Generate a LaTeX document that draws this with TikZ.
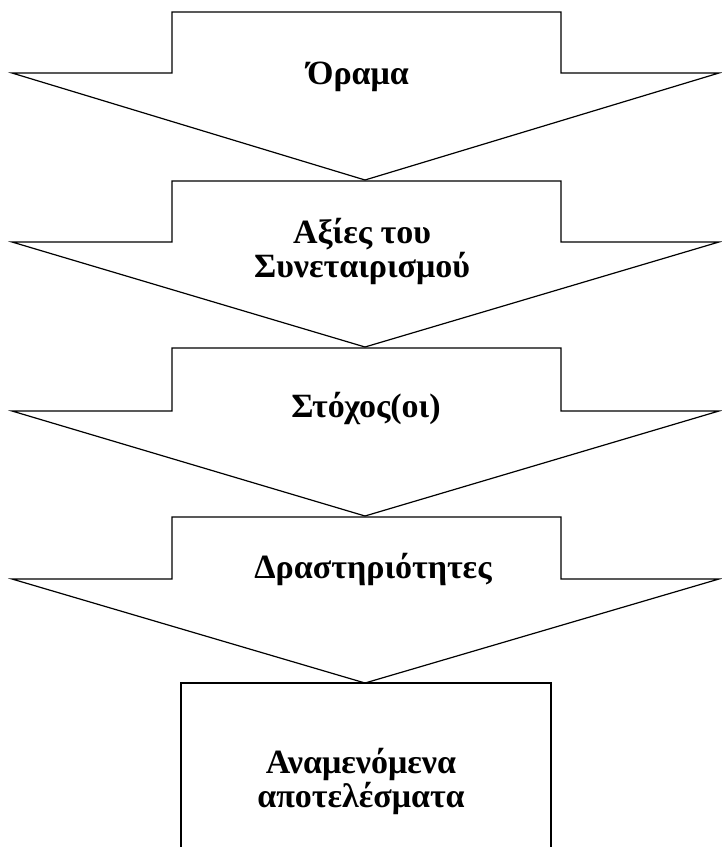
\documentclass[tikz,border=0pt]{standalone}
\usepackage{fontspec}
\setmainfont{Liberation Serif}
\begin{document}
\begin{tikzpicture}[x=1pt,y=-1pt,
  shape line/.style={draw=black,line width=1.2pt,line join=miter,fill=white},
  label text/.style={font=\fontsize{34}{34}\selectfont\bfseries,align=center,inner sep=0pt,anchor=base}]
\useasboundingbox (0,0) rectangle (722,847);
% arrows: top, wing y, tip y
\foreach \t/\w/\p in {12/73/180, 181/242/347, 348/411/516, 517/579/683}{
  \draw[shape line] (172,\t) -- (561,\t) -- (561,\w) -- (719,\w) -- (365,\p)
    -- (12,\w) -- (172,\w) -- cycle;
}
% final box (open at bottom)
\draw[shape line] (181,850) -- (181,683) -- (551,683) -- (551,850);
\node[label text] (a1) at (358,84) {Όραμα};
\node[label text] (a2) at (362,277) {Αξίες του\\Συνεταιρισμού};
\node[label text] (a3) at (366,417) {Στόχος(οι)};
\node[label text] (a4) at (373,578) {Δραστηριότητες};
\node[label text] (a5) at (361,807) {Αναμενόμενα\\αποτελέσματα};
\end{tikzpicture}
\end{document}
